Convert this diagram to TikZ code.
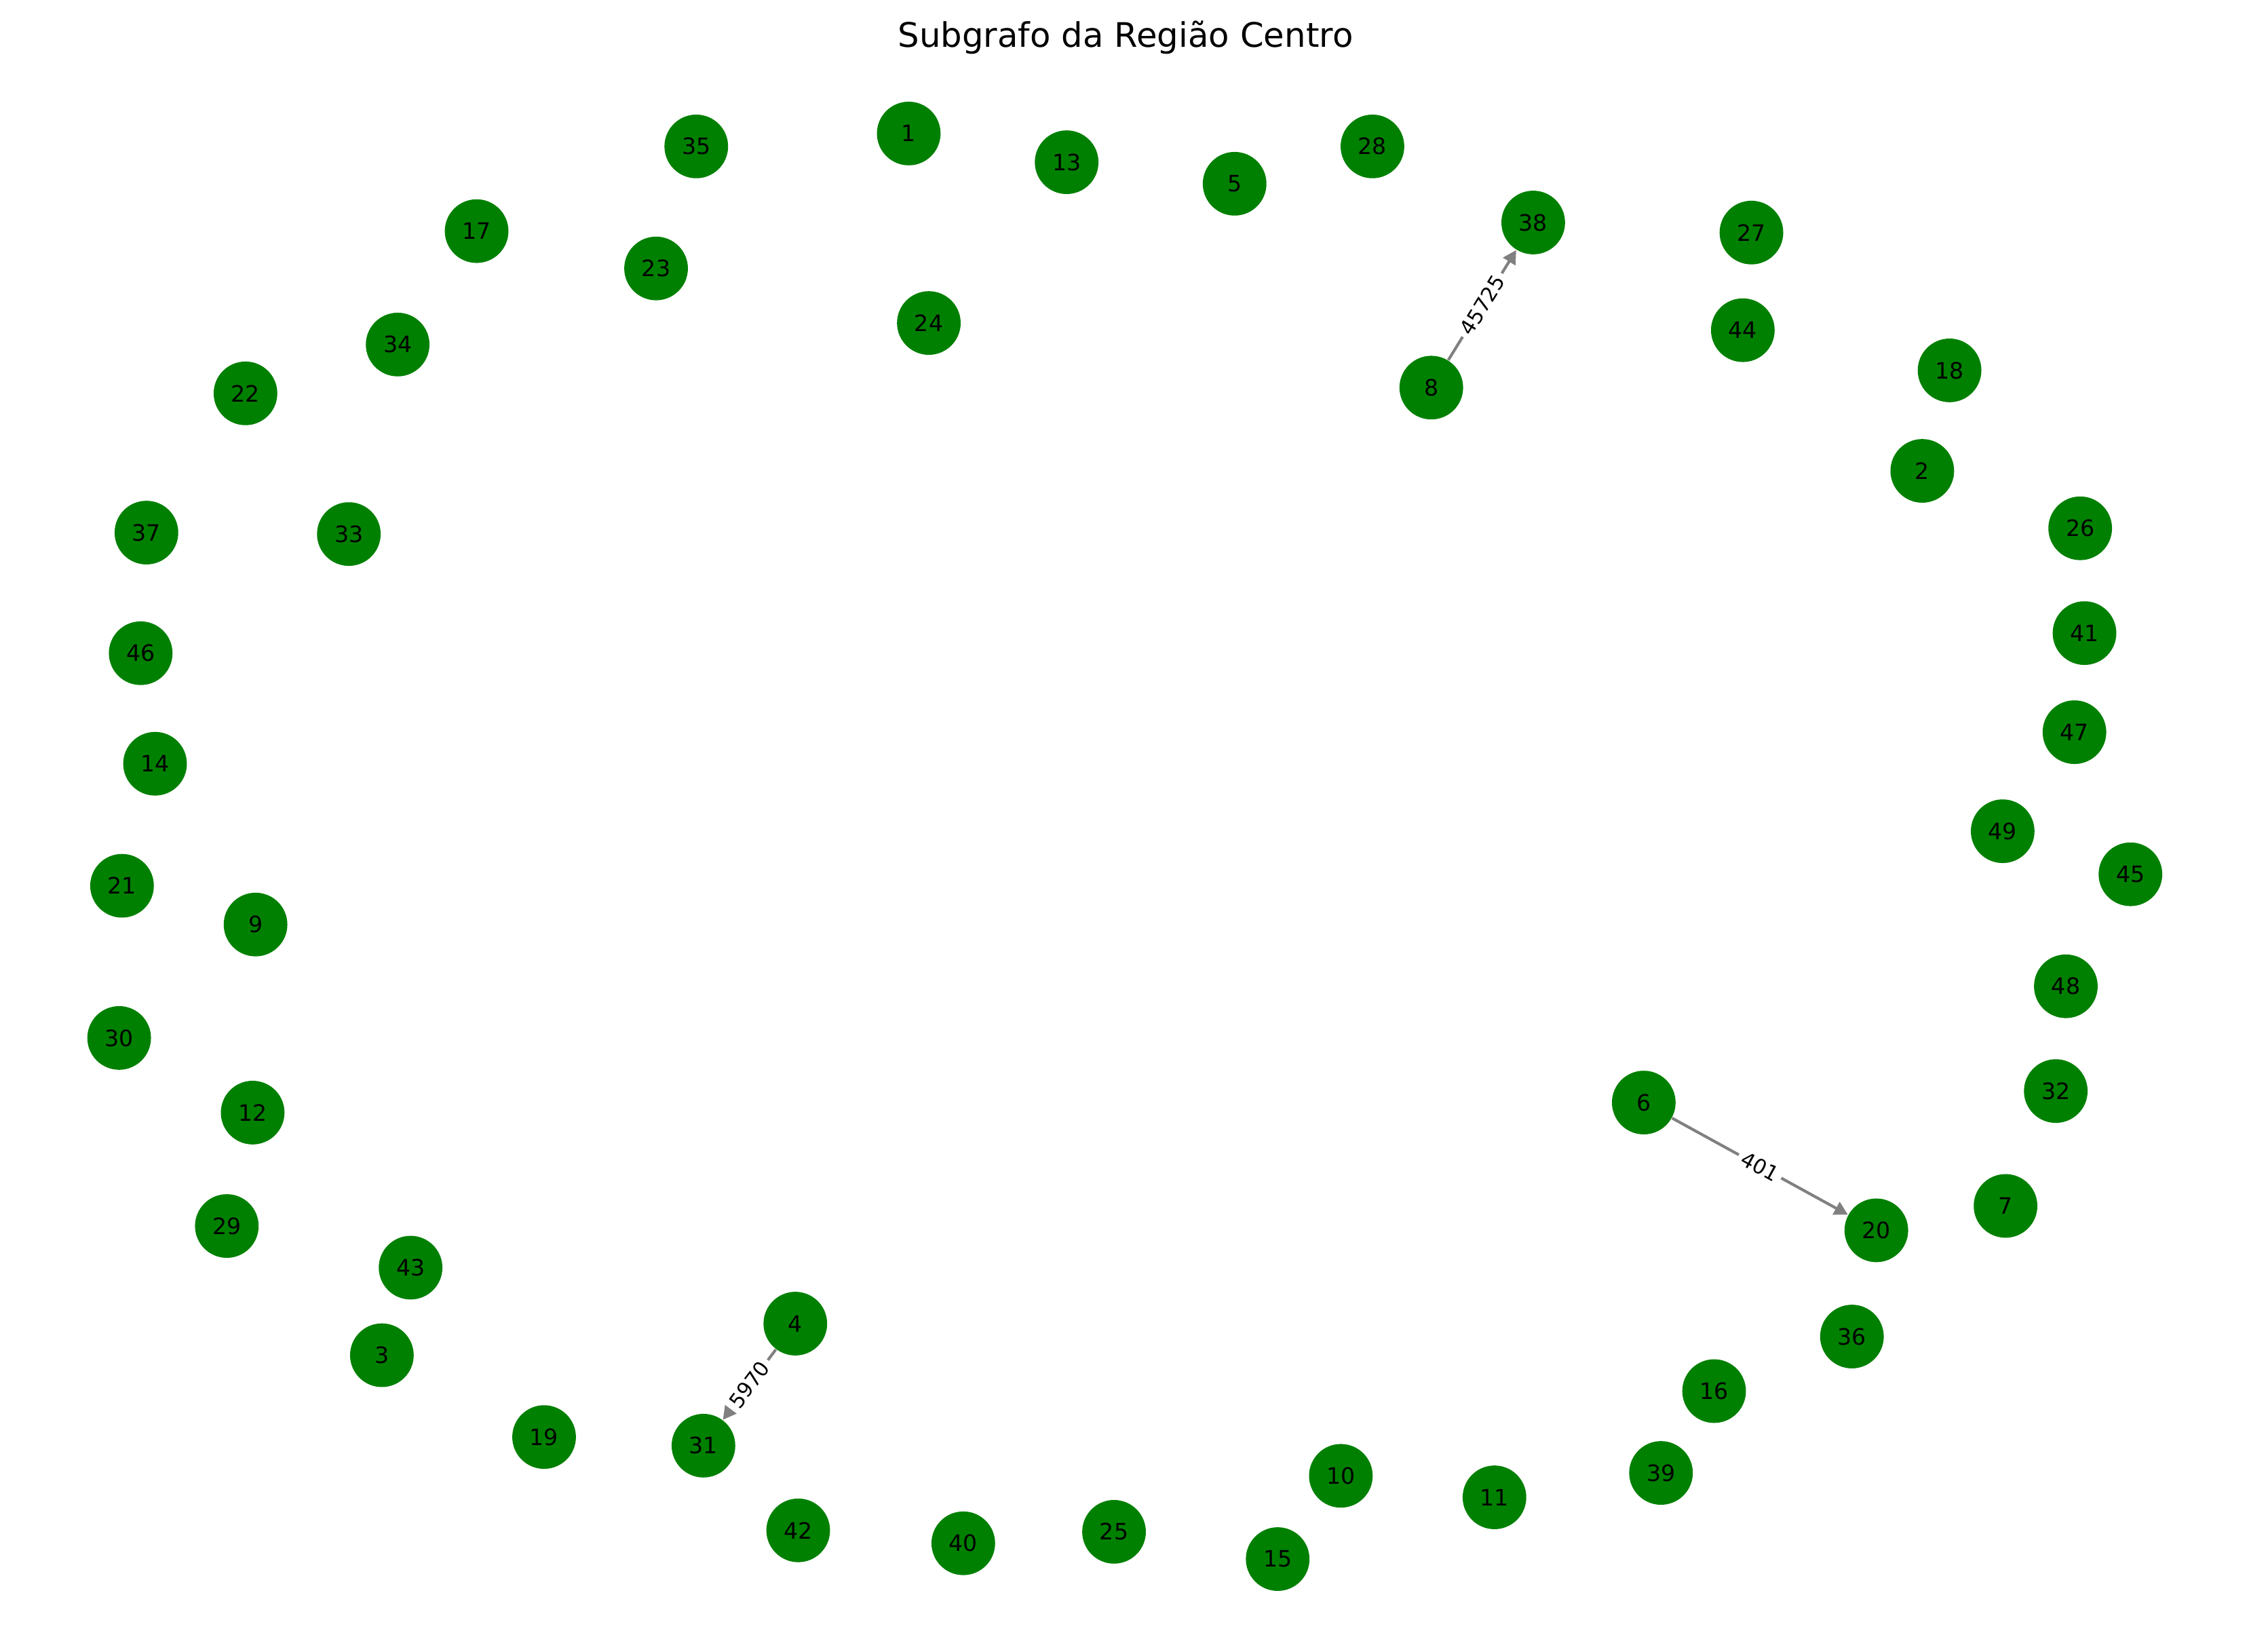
\documentclass[tikz,border=0pt]{standalone}
\usepackage{fontspec}
\setmainfont{DejaVu Sans}
\usetikzlibrary{arrows.meta}
\definecolor{nxgreen}{RGB}{0,128,0}
\definecolor{nxgray}{RGB}{128,128,128}
\begin{document}
\begin{tikzpicture}[x=0.5097pt,y=-0.5097pt,
  gnode/.style={circle,fill=nxgreen,minimum size=22.6pt,inner sep=0pt,text=black,font=\fontsize{8}{9}\selectfont},
  gedge/.style={draw=nxgray,line width=1pt,-{Triangle[length=4.8pt,width=5pt]}},
  elabel/.style={fill=white,inner sep=1.6pt,sloped,text=black,font=\fontsize{7.3}{8}\selectfont}]
\useasboundingbox (0,0) rectangle (1566.6,1150.3);
\node[font=\fontsize{12}{14}\selectfont] (title) at (784,26) {Subgrafo da Região Centro};
\node[gnode] (n35) at (485,102) {35};
\node[gnode] (n1) at (633,93) {1};
\node[gnode] (n13) at (743,113) {13};
\node[gnode] (n5) at (860,128) {5};
\node[gnode] (n28) at (956,102) {28};
\node[gnode] (n17) at (332,161) {17};
\node[gnode] (n23) at (457,187) {23};
\node[gnode] (n24) at (647,225) {24};
\node[gnode] (n38) at (1068,155) {38};
\node[gnode] (n27) at (1220,162) {27};
\node[gnode] (n44) at (1214,230) {44};
\node[gnode] (n18) at (1358,258) {18};
\node[gnode] (n8) at (997,270) {8};
\node[gnode] (n34) at (277,240) {34};
\node[gnode] (n22) at (171,274) {22};
\node[gnode] (n2) at (1339,328) {2};
\node[gnode] (n26) at (1449,368) {26};
\node[gnode] (n37) at (102,371) {37};
\node[gnode] (n33) at (243,372) {33};
\node[gnode] (n41) at (1452,441) {41};
\node[gnode] (n46) at (98,455) {46};
\node[gnode] (n47) at (1445,510) {47};
\node[gnode] (n14) at (108,532) {14};
\node[gnode] (n49) at (1395,579) {49};
\node[gnode] (n45) at (1484,609) {45};
\node[gnode] (n21) at (85,617) {21};
\node[gnode] (n9) at (178,644) {9};
\node[gnode] (n48) at (1439,687) {48};
\node[gnode] (n30) at (83,723) {30};
\node[gnode] (n12) at (176,775) {12};
\node[gnode] (n32) at (1432,760) {32};
\node[gnode] (n6) at (1145,768) {6};
\node[gnode] (n7) at (1397,840) {7};
\node[gnode] (n20) at (1307,857) {20};
\node[gnode] (n29) at (158,854) {29};
\node[gnode] (n43) at (286,883) {43};
\node[gnode] (n36) at (1290,931) {36};
\node[gnode] (n4) at (554,922) {4};
\node[gnode] (n3) at (266,944) {3};
\node[gnode] (n16) at (1194,969) {16};
\node[gnode] (n19) at (379,1001) {19};
\node[gnode] (n31) at (490,1007) {31};
\node[gnode] (n39) at (1157,1026) {39};
\node[gnode] (n10) at (934,1028) {10};
\node[gnode] (n11) at (1041,1043) {11};
\node[gnode] (n42) at (556,1066) {42};
\node[gnode] (n40) at (671,1075) {40};
\node[gnode] (n25) at (776,1067) {25};
\node[gnode] (n15) at (890,1086) {15};
\draw[gedge] (n8) -- node[elabel] {45725} (n38);
\draw[gedge] (n6) -- node[elabel] {401} (n20);
\draw[gedge] (n4) -- node[elabel] {5970} (n31);
\end{tikzpicture}
\end{document}
